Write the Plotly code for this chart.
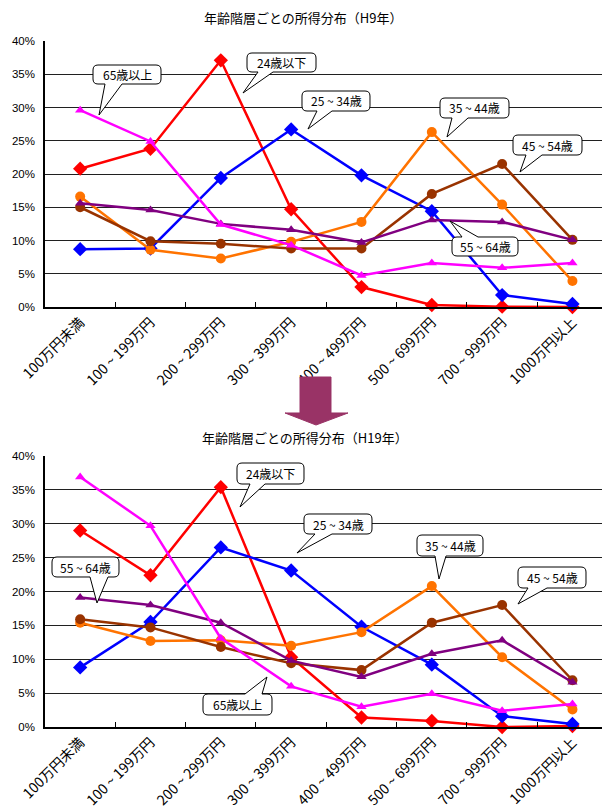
import plotly.graph_objects as go

# Income brackets (x categories)
categories = ["100万円未満", "100 ~ 199万円", "200 ~ 299万円", "300 ~ 399万円",
              "400 ~ 499万円", "500 ~ 699万円", "700 ~ 999万円", "1000万円以上"]

series_names = ["24歳以下", "25 ~ 34歳", "35 ~ 44歳", "45 ~ 54歳", "55 ~ 64歳", "65歳以上"]

# H9 distribution (%)
h9_24 = [20.8, 23.8, 37.1, 14.7, 3.0, 0.3, 0.05, 0.0]
h9_25_34 = [8.7, 8.8, 19.4, 26.7, 19.8, 14.4, 1.8, 0.45]
h9_35_44 = [16.6, 8.6, 7.3, 9.8, 12.8, 26.3, 15.4, 3.9]
h9_45_54 = [15.0, 9.9, 9.5, 8.8, 8.8, 17.0, 21.5, 10.1]
h9_55_64 = [15.6, 14.6, 12.5, 11.6, 9.7, 13.1, 12.8, 10.1]
h9_65 = [29.6, 24.9, 12.4, 9.3, 4.75, 6.6, 5.9, 6.6]

# H19 distribution (%)
h19_24 = [29.0, 22.4, 35.4, 10.3, 1.4, 0.9, 0.0, 0.15]
h19_25_34 = [8.8, 15.5, 26.5, 23.1, 14.8, 9.2, 1.6, 0.45]
h19_35_44 = [15.4, 12.7, 12.8, 12.0, 14.0, 20.8, 10.3, 2.6]
h19_45_54 = [15.9, 14.7, 11.8, 9.4, 8.4, 15.4, 18.0, 6.9]
h19_55_64 = [19.1, 18.0, 15.4, 9.8, 7.4, 10.8, 12.8, 6.6]
h19_65 = [36.9, 29.7, 13.1, 6.0, 3.0, 4.9, 2.4, 3.4]

h9 = [h9_24, h9_25_34, h9_35_44, h9_45_54, h9_55_64, h9_65]
h19 = [h19_24, h19_25_34, h19_35_44, h19_45_54, h19_55_64, h19_65]

colors = ["#FF0000", "#0000FF", "#FF7300", "#993300", "#800080", "#FF00FF"]
symbols = ["diamond", "diamond", "circle", "circle", "triangle-up", "triangle-up"]
msizes = [11, 11, 10, 10, 9, 9]

W, H = 602, 812
ML = 45
PW = W - ML

CJK = "Noto Sans CJK JP"


def px(x):
    return (x - ML) / PW


def py(y):
    return 1 - y / H


fig = go.Figure()

for panel, data in ((1, h9), (2, h19)):
    for name, vals, c, s, ms in zip(series_names, data, colors, symbols, msizes):
        fig.add_trace(go.Scatter(
            x=categories, y=vals, name=name, mode="lines+markers",
            line=dict(color=c, width=2.5),
            marker=dict(symbol=s, size=ms, color=c),
            xaxis="x" if panel == 1 else "x2",
            yaxis="y" if panel == 1 else "y2",
            showlegend=False, cliponaxis=False,
        ))

xcommon = dict(
    type="category", categoryorder="array", categoryarray=categories,
    range=[-0.5, 7.42], showline=True, linecolor="black", linewidth=1.5,
    ticks="inside", tickson="boundaries", ticklen=5, tickcolor="black",
    tickangle=-45, tickfont=dict(family=CJK, size=14, color="black"),
    showgrid=False, zeroline=False, automargin=False,
)
ycommon = dict(
    range=[0, 40], dtick=5, ticksuffix="%", showline=True, linecolor="black",
    linewidth=1.5, gridcolor="#202020", gridwidth=1, zeroline=False,
    ticks="", ticklabelstandoff=6,
    tickfont=dict(family="Liberation Sans", size=11.5, color="black"),
    automargin=False,
)

fig.update_layout(
    width=W, height=H,
    margin=dict(l=ML, r=0, t=0, b=0),
    paper_bgcolor="white", plot_bgcolor="white",
    xaxis=dict(xcommon, domain=[0, 1], anchor="y"),
    yaxis=dict(ycommon, domain=[py(307), py(41)], anchor="x"),
    xaxis2=dict(xcommon, domain=[0, 1], anchor="y2"),
    yaxis2=dict(ycommon, domain=[py(727), py(456)], anchor="x2"),
)

# Panel titles
titles = [("年齢階層ごとの所得分布（H9年）", 303, 17),
          ("年齢階層ごとの所得分布（H19年）", 305, 437)]
for text, tx, ty in titles:
    fig.add_annotation(text=text, x=px(tx), y=py(ty), xref="paper", yref="paper",
                       xanchor="center", yanchor="middle", showarrow=False,
                       font=dict(family=CJK, size=13, color="black"))

# Speech-bubble callouts: label, box (x0, y0, x1, y1), wedge edge, wedge base, tip
callouts = [
    ("65歳以上", (93, 65, 161, 84), "bottom", (105, 122), (99, 115)),
    ("24歳以下", (247, 53, 316, 72), "bottom", (258, 273), (243, 93)),
    ("25 ~ 34歳", (302, 91, 370, 111), "bottom", (317, 332), (308, 129)),
    ("35 ~ 44歳", (440, 98, 509, 118), "bottom", (452, 468), (447, 137)),
    ("45 ~ 54歳", (513, 135, 582, 155), "bottom", (526, 542), (520, 172)),
    ("55 ~ 64歳", (452, 237, 518, 256), "top", (462, 478), (450, 221)),
    ("24歳以下", (237, 463, 304, 484), "bottom", (250, 265), (240, 507)),
    ("25 ~ 34歳", (304, 514, 372, 534), "bottom", (315, 332), (297, 553)),
    ("35 ~ 44歳", (417, 535, 483, 556), "bottom", (435, 446), (439, 579)),
    ("45 ~ 54歳", (518, 567, 586, 588), "bottom", (528, 547), (518, 604)),
    ("55 ~ 64歳", (52, 557, 119, 577), "bottom", (90, 108), (97, 603)),
    ("65歳以上", (203, 694, 272, 715), "top", (245, 262), (267, 677)),
]


def bubble_path(box, edge, base, tip, r=5):
    x0, y0, x1, y1 = box
    b0, b1 = base
    tx, ty = tip
    pts = []

    def P(cmd, *xy):
        coords = []
        for i in range(0, len(xy), 2):
            coords.append(f"{px(xy[i]):.5f},{py(xy[i + 1]):.5f}")
        pts.append(cmd + " ".join(coords))

    P("M", x0 + r, y0)
    if edge == "top":
        P("L", b0, y0)
        P("L", tx, ty)
        P("L", b1, y0)
    P("L", x1 - r, y0)
    P("Q", x1, y0, x1, y0 + r)
    P("L", x1, y1 - r)
    P("Q", x1, y1, x1 - r, y1)
    if edge == "bottom":
        P("L", b1, y1)
        P("L", tx, ty)
        P("L", b0, y1)
    P("L", x0 + r, y1)
    P("Q", x0, y1, x0, y1 - r)
    P("L", x0, y0 + r)
    P("Q", x0, y0, x0 + r, y0)
    return " ".join(pts) + " Z"


for label, box, edge, base, tip in callouts:
    fig.add_shape(type="path", path=bubble_path(box, edge, base, tip),
                  xref="paper", yref="paper", fillcolor="white",
                  line=dict(color="black", width=1), layer="above")
    cx = (box[0] + box[2]) / 2
    cy = (box[1] + box[3]) / 2
    fig.add_annotation(text=label, x=px(cx), y=py(cy), xref="paper", yref="paper",
                       xanchor="center", yanchor="middle", showarrow=False,
                       font=dict(family=CJK, size=12, color="black"))

# Block arrow between the two panels
arrow = [(300, 377), (331, 377), (331, 413), (348, 413), (316, 425),
         (285, 413), (300, 413)]
apath = "M" + " L".join(f"{px(x):.5f},{py(y):.5f}" for x, y in arrow) + " Z"
fig.add_shape(type="path", path=apath, xref="paper", yref="paper",
              fillcolor="#993366", line=dict(color="#993366", width=1))

fig.write_html("out.html")
